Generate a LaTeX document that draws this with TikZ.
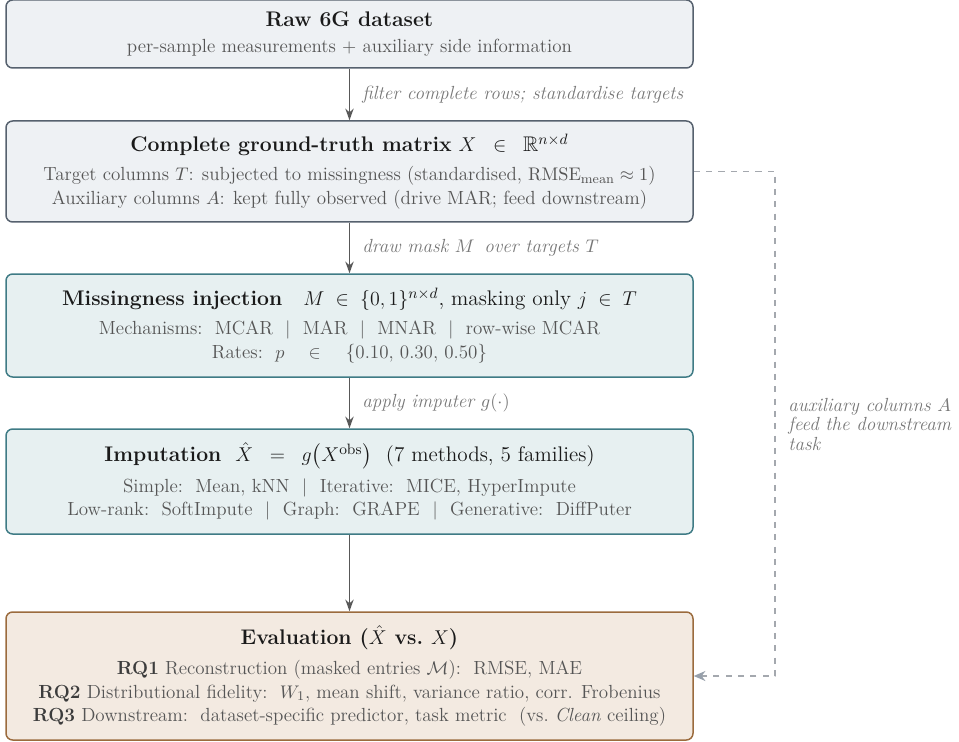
\documentclass[tikz,border=0pt]{standalone}
\usepackage{amsmath,amssymb}
\usetikzlibrary{arrows.meta}
\definecolor{titleink}{HTML}{1A1A1A}
\definecolor{bodyink}{HTML}{555555}
\definecolor{noteink}{HTML}{777777}
\definecolor{flowink}{HTML}{585858}
\definecolor{dataline}{HTML}{56616E}
\definecolor{datafill}{HTML}{EEF1F4}
\definecolor{procline}{HTML}{3F7B85}
\definecolor{procfill}{HTML}{E7F0F1}
\definecolor{evalline}{HTML}{9B6B3D}
\definecolor{evalfill}{HTML}{F3EAE1}
\definecolor{auxline}{HTML}{A4A8AE}
\definecolor{auxtip}{HTML}{97A0AB}
\newcommand{\stagetitle}[1]{{\fontsize{12.7}{15}\selectfont\color{titleink}#1}}
\newcommand{\famsep}{\enspace\,$|$\enspace\,}
\begin{document}
\begin{tikzpicture}[x=0.6pt, y=-0.6pt, >={Stealth[length=7pt,width=5pt]}, line join=round,
	stage/.style={draw, rounded corners=4pt, line width=0.9pt, minimum width=412.2pt, inner sep=0pt,
		align=center, text=bodyink, font=\fontsize{11.4}{14.2}\selectfont},
	datastage/.style={stage, draw=dataline, fill=datafill},
	procstage/.style={stage, draw=procline, fill=procfill},
	evalstage/.style={stage, draw=evalline, fill=evalfill},
	flow/.style={->, draw=flowink, line width=0.9pt},
	flownote/.style={right, xshift=4pt, text=noteink, font=\itshape\fontsize{11.4}{13}\selectfont},
	auxlink/.style={-{Stealth[length=7pt,width=6pt,color=auxtip]}, draw=auxline, line width=0.9pt, dash pattern=on 3.7pt off 3.7pt}]
	\useasboundingbox (0,0) rectangle (959,742);
	% stages of the pipeline
	\node[datastage, minimum height=40.8pt] (raw) at (349.5,34)
		{\stagetitle{\bfseries Raw 6G dataset}\\[1pt]
		per-sample measurements $+$ auxiliary side information};
	\node[datastage, minimum height=60.6pt] (truth) at (349.5,171.5)
		{\stagetitle{\textbf{Complete ground-truth matrix} $X\;\;\in\;\;\mathbb{R}^{n\times d}$}\\[3pt]
		Target columns $T$: subjected to missingness (standardised, $\mathrm{RMSE}_{\mathrm{mean}}\approx 1$)\\
		Auxiliary columns $A$: kept fully observed (drive MAR; feed downstream)};
	\node[procstage, minimum height=61.8pt] (inject) at (349.5,325.5)
		{\stagetitle{\textbf{Missingness injection}\quad $M\;\in\;\{0,1\}^{n\times d}$, masking only $j\;\in\;T$}\\[3pt]
		Mechanisms:\ \ MCAR \ $|$ \ MAR \ $|$ \ MNAR \ $|$ \ row-wise MCAR\\
		Rates:\ \ $p\quad\in\quad$ \{0.10, 0.30, 0.50\}};
	\node[procstage, minimum height=63pt] (impute) at (349.5,481.5)
		{\stagetitle{\textbf{Imputation}\ \ $\hat{X}\;\;=\;\;g\bigl(X^{\mathrm{obs}}\bigr)$\ \ (7 methods, 5 families)}\\[4pt]
		Simple:\ \ Mean, kNN\famsep Iterative:\ \ MICE, HyperImpute\\
		Low-rank:\ \ SoftImpute\famsep Graph:\ \ GRAPE\famsep Generative:\ \ DiffPuter};
	\node[evalstage, minimum height=76.8pt] (evaluate) at (349.5,676)
		{\stagetitle{\bfseries Evaluation ($\hat{X}$ vs.\ $X$)}\\[4pt]
		{\bfseries\color{titleink!85}RQ1} Reconstruction (masked entries $\mathcal{M}$):\ \ RMSE, MAE\\
		{\bfseries\color{titleink!85}RQ2} Distributional fidelity:\ \ $W_1$, mean shift, variance ratio, corr. Frobenius\\
		{\bfseries\color{titleink!85}RQ3} Downstream:\ \ dataset-specific predictor, task metric\ \ (vs.\ \textit{Clean} ceiling)};
	% main flow
	\draw[flow] (raw) -- node[flownote]{filter complete rows; standardise targets} (truth);
	\draw[flow] (truth) -- node[flownote]{draw mask $M$\, over targets $T$} (inject);
	\draw[flow] (inject) -- node[flownote]{apply imputer $g(\cdot)$} (impute);
	\draw[flow] (impute) -- (evaluate);
	% auxiliary side channel
	\coordinate (auxrail) at (775,0);
	\draw[auxlink] (truth.east) -- (truth.east -| auxrail) -- (evaluate.east -| auxrail) -- (evaluate.east);
	\node[anchor=north west, align=left, inner sep=0pt, text=noteink, font=\itshape\fontsize{11.4}{11.6}\selectfont] (auxnote) at (788,398)
		{auxiliary columns $A$\\ feed the downstream\\ task};
\end{tikzpicture}
\end{document}
